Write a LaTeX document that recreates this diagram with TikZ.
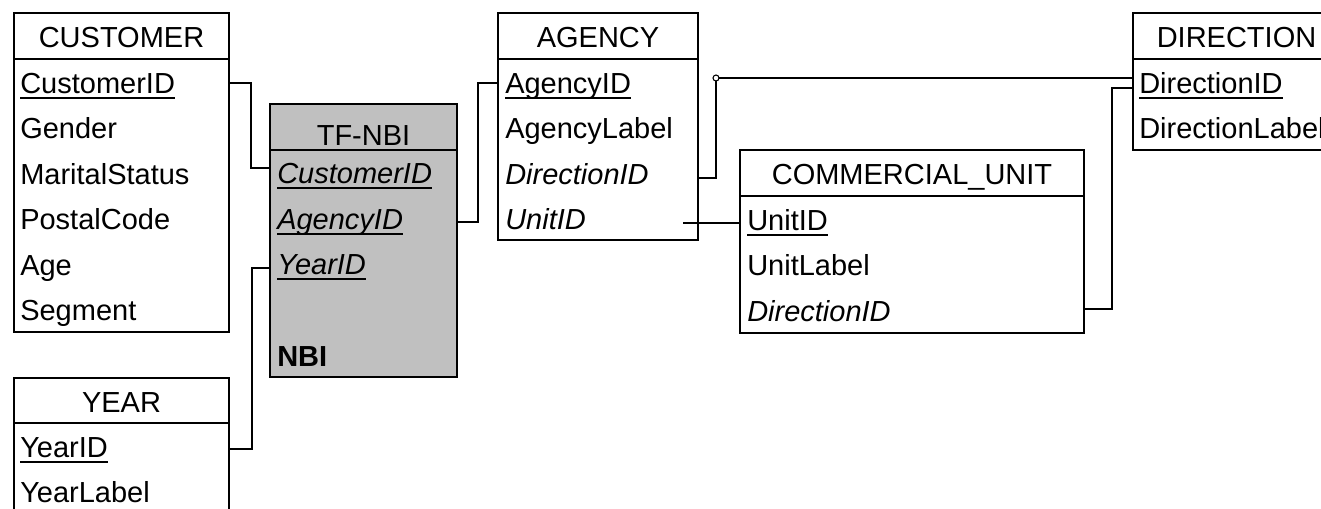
\documentclass[tikz,border=0pt]{standalone}
\usepackage{fontspec}
\setmainfont{Liberation Sans}
\usetikzlibrary{fit}
\definecolor{factgray}{HTML}{C0C0C0}
\newcommand\tblfont{\fontsize{21.75pt}{26pt}\selectfont}
\begin{document}
\begin{tikzpicture}[x=0.75pt,y=-0.75pt,
  tblbox/.style={draw=black,line width=1.5pt,inner sep=0pt,fill=white},
  factbox/.style={tblbox,fill=factgray},
  hdr/.style={anchor=base,inner sep=0pt,font=\tblfont},
  fld/.style={anchor=base west,inner sep=0pt,text height=15.6pt,text depth=0pt,font=\tblfont},
  ifld/.style={fld,font=\tblfont\itshape},
  bfld/.style={fld,font=\tblfont\bfseries},
  sepline/.style={line width=1.5pt},
  ulline/.style={line width=1.3pt},
  conn/.style={line width=1.5pt},
  knob/.style={circle,draw=black,line width=0.8pt,fill=white,inner sep=0pt,minimum size=4.5pt}]
\useasboundingbox (0,0) rectangle (1321,508);
\clip (0,0) rectangle (1321,508);
\fill[white] (0,0) rectangle (1321,508);

% CUSTOMER
\node[tblbox,fit={(14,13) (229,332)}] (cust) {};
\draw[sepline] (cust.west |- 0,59) -- (cust.east |- 0,59);
\node[hdr] (custh) at (121.5,47) {CUSTOMER};
\node[fld] (custid) at (20,93) {CustomerID};
\node[fld] (custg) at (20,138.5) {Gender};
\node[fld] (custm) at (20,184) {MaritalStatus};
\node[fld] (custp) at (20,229.5) {PostalCode};
\node[fld] (custa) at (20,275) {Age};
\node[fld] (custs) at (20,320.5) {Segment};

% TF-NBI
\node[factbox,fit={(270,104) (457,377)}] (fact) {};
\draw[sepline] (fact.west |- 0,150) -- (fact.east |- 0,150);
\node[hdr] (facth) at (363.5,145) {TF-NBI};
\node[ifld] (fcust) at (277,183.5) {CustomerID};
\node[ifld] (fagen) at (277,229) {AgencyID};
\node[ifld] (fyear) at (277,274.5) {YearID};
\node[bfld] (fnbi) at (277,366) {NBI};

% YEAR
\node[tblbox,fit={(14,378) (229,540)}] (year) {};
\draw[sepline] (year.west |- 0,423) -- (year.east |- 0,423);
\node[hdr] (yearh) at (121.5,412) {YEAR};
\node[fld] (yid) at (20,457) {YearID};
\node[fld] (ylab) at (20,502.5) {YearLabel};

% AGENCY
\node[tblbox,fit={(498,13) (698,240)}] (agency) {};
\draw[sepline] (agency.west |- 0,59) -- (agency.east |- 0,59);
\node[hdr] (agencyh) at (598,47) {AGENCY};
\node[fld] (aid) at (505,93) {AgencyID};
\node[fld] (alab) at (505,138.5) {AgencyLabel};
\node[ifld] (adir) at (505,184) {DirectionID};
\node[ifld] (aunit) at (505,229.5) {UnitID};

% COMMERCIAL_UNIT
\node[tblbox,fit={(740,150) (1084,333)}] (cu) {};
\draw[sepline] (cu.west |- 0,196) -- (cu.east |- 0,196);
\node[hdr] (cuh) at (912,184) {COMMERCIAL\_UNIT};
\node[fld] (cuid) at (747,230) {UnitID};
\node[fld] (culab) at (747,275.5) {UnitLabel};
\node[ifld] (cudir) at (747,321) {DirectionID};

% DIRECTION
\node[tblbox,fit={(1133,13) (1340,150)}] (dir) {};
\draw[sepline] (dir.west |- 0,59) -- (dir.east |- 0,59);
\node[hdr] (dirh) at (1236.5,47) {DIRECTION};
\node[fld] (did) at (1139,93) {DirectionID};
\node[fld] (dlab) at (1139,138.5) {DirectionLabel};

% underlines of key fields
\foreach \f in {custid,fcust,fagen,fyear,yid,aid,cuid,did}
  \draw[ulline] ([yshift=-3.6pt]\f.base west) -- ([yshift=-3.6pt]\f.base east);

% connectors
\draw[conn] ([yshift=7.5pt]cust.east |- custid.base) -- ++(21,0)
  |- ([yshift=11.6pt]fact.west |- fcust.base);
\draw[conn] ([yshift=5.25pt]fact.east |- fagen.base) -- ++(20,0)
  |- ([yshift=7.5pt]agency.west |- aid.base);
\draw[conn] ([yshift=6pt]year.east |- yid.base) -- ++(22,0)
  |- ([yshift=4.9pt]fact.west |- fyear.base);
\coordinate (dirin) at ([yshift=11.25pt]dir.west |- did.base);
\draw[conn] ([yshift=4.5pt]agency.east |- adir.base) -- ++(17,0) coordinate (c4k)
  |- (dirin);
\node[knob] (knot) at (c4k |- dirin) {};
\draw[conn] ([xshift=-12pt,yshift=5.25pt]agency.east |- cuid.base)
  -- ([yshift=5.25pt]cu.west |- cuid.base);
\draw[conn] ([yshift=9pt]cu.east |- cudir.base) -- ++(27,0)
  |- ([yshift=3.75pt]dir.west |- did.base);
\end{tikzpicture}
\end{document}
